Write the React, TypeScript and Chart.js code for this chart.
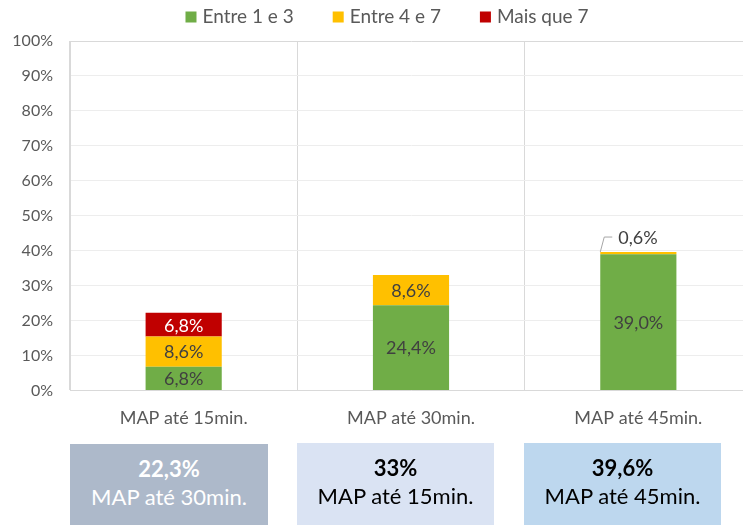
import React, { useEffect, useRef } from "react";
import { Chart, registerables } from "chart.js";

Chart.register(...registerables);

const categories = ["MAP até 15min.", "MAP até 30min.", "MAP até 45min."];
const seriesNames = ["Entre 1 e 3", "Entre 4 e 7", "Mais que 7"];
const entre1e3 = [6.8, 24.4, 39.0];
const entre4e7 = [8.6, 8.6, 0.6];
const maisQue7 = [6.8, 0, 0];
const seriesColors = ["#70AD47", "#FFC000", "#C00000"];
const yTicks = [0, 10, 20, 30, 40, 50, 60, 70, 80, 90, 100];

const summaryValues = ["22,3%", "33%", "39,6%"];
const summaryLabels = ["MAP até 30min.", "MAP até 15min.", "MAP até 45min."];
const summaryColors = ["#ADB9CA", "#DAE3F3", "#BDD7EE"];
const summaryText = ["#FFFFFF", "#000000", "#000000"];

const FONT = "Lato, 'Open Sans', sans-serif";
const fmt = (v: number) => v.toFixed(1).replace(".", ",") + "%";

const labelPlugin = {
  id: "barLabels",
  afterDatasetsDraw(chart: any) {
    const ctx = chart.ctx;
    ctx.save();
    ctx.font = `18px ${FONT}`;
    ctx.textAlign = "center";
    ctx.textBaseline = "middle";
    chart.data.datasets.forEach((ds: any, di: number) => {
      const meta = chart.getDatasetMeta(di);
      meta.data.forEach((el: any, i: number) => {
        const v = ds.data[i];
        if (!v) return;
        if (v < 2) {
          const left = el.x - el.width / 2;
          const top = Math.min(el.y, el.base);
          ctx.strokeStyle = "#A6A6A6";
          ctx.lineWidth = 1;
          ctx.beginPath();
          ctx.moveTo(left, top);
          ctx.lineTo(left + 4, top - 15);
          ctx.lineTo(left + 12, top - 15);
          ctx.stroke();
          ctx.fillStyle = "#404040";
          ctx.textAlign = "left";
          ctx.fillText(fmt(v), left + 18, top - 14);
          ctx.textAlign = "center";
          return;
        }
        ctx.fillStyle = di === 2 ? "#FFFFFF" : "#404040";
        ctx.fillText(fmt(v), el.x, (el.y + el.base) / 2 + 1);
      });
    });
    ctx.restore();
  },
};

const legendPlugin = {
  id: "topLegend",
  afterDraw(chart: any) {
    const ctx = chart.ctx;
    ctx.save();
    ctx.font = `19px ${FONT}`;
    ctx.textBaseline = "middle";
    const box = 11;
    const gap = 6;
    const spacing = 39;
    const widths = seriesNames.map((n) => ctx.measureText(n).width);
    const total =
      widths.reduce((a, w) => a + box + gap + w, 0) + spacing * (seriesNames.length - 1);
    let x = 387 - total / 2;
    const cy = 17;
    seriesNames.forEach((n, i) => {
      ctx.fillStyle = seriesColors[i];
      ctx.fillRect(x, cy - box / 2, box, box);
      ctx.fillStyle = "#595959";
      ctx.textAlign = "left";
      ctx.fillText(n, x + box + gap, cy);
      x += box + gap + widths[i] + spacing;
    });
    ctx.restore();
  },
};

export default function App() {
  const ref = useRef<HTMLCanvasElement>(null);
  useEffect(() => {
    if (!ref.current) return;
    const chart = new Chart(ref.current, {
      type: "bar",
      data: {
        labels: categories,
        datasets: [entre1e3, entre4e7, maisQue7].map((d, i) => ({
          label: seriesNames[i],
          data: d,
          backgroundColor: seriesColors[i],
          borderWidth: 0,
          categoryPercentage: 1,
          barPercentage: 0.335,
        })),
      },
      options: {
        animation: false,
        responsive: false,
        maintainAspectRatio: false,
        layout: { padding: { left: 0, right: 0, top: 41, bottom: 9 } },
        plugins: {
          tooltip: { enabled: false },
          legend: { display: false },
        },
        scales: {
          x: {
            stacked: true,
            offset: true,
            grid: { display: true, offset: true, color: "#D9D9D9", drawTicks: false },
            border: { display: true, color: "#D9D9D9" },
            ticks: { color: "#595959", font: { family: FONT, size: 18 }, padding: 17 },
          },
          y: {
            stacked: true,
            min: 0,
            max: 100,
            afterFit: (s: any) => {
              s.width = 70;
            },
            afterBuildTicks: (s: any) => {
              s.ticks = yTicks.map((v) => ({ value: v }));
            },
            grid: {
              drawTicks: false,
              color: (c: any) => (c.tick && c.tick.value === 100 ? "#D9D9D9" : "#EDEDED"),
            },
            border: { display: true, color: "#D9D9D9" },
            ticks: {
              color: "#595959",
              font: { family: FONT, size: 16 },
              padding: 17,
              callback: (v: any) => v + "%",
            },
          },
        },
      },
      plugins: [labelPlugin, legendPlugin],
    });
    return () => chart.destroy();
  }, []);

  return (
    <div
      style={{
        position: "absolute",
        left: 0,
        top: 0,
        width: 743,
        height: 525,
        overflow: "hidden",
        background: "#FFFFFF",
      }}
    >
      <canvas
        ref={ref}
        width={752}
        height={455}
        style={{ position: "absolute", left: 0, top: 0, width: 752, height: 455 }}
      />
      {summaryValues.map((v, i) => (
        <div
          key={i}
          style={{
            position: "absolute",
            left: [70, 297, 524][i],
            top: i === 0 ? 444 : 443,
            width: i === 0 ? 198 : 197,
            height: 90,
            background: summaryColors[i],
            color: summaryText[i],
            fontFamily: FONT,
            fontSize: 22,
            lineHeight: "28px",
            textAlign: "center",
            paddingTop: 11,
            boxSizing: "border-box",
          }}
        >
          <div style={{ fontWeight: 700 }}>{v}</div>
          <div>{summaryLabels[i]}</div>
        </div>
      ))}
    </div>
  );
}
